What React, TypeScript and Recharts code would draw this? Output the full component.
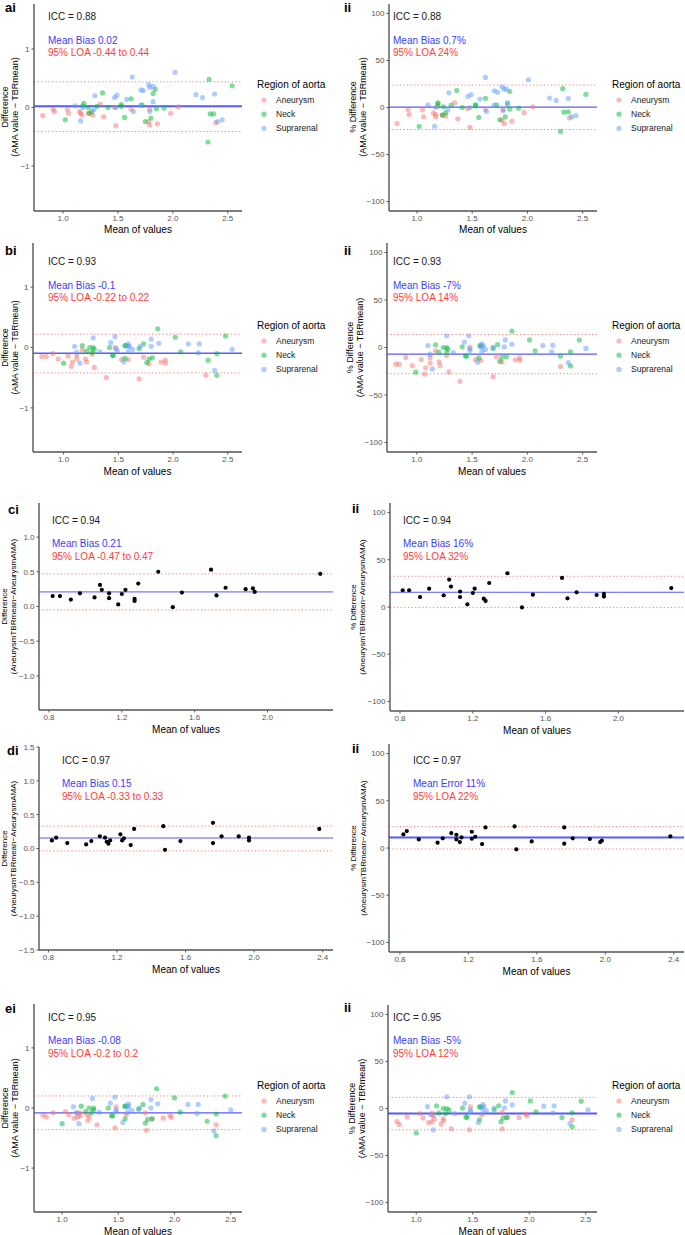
import React from "react";
import { ScatterChart, Scatter, XAxis, YAxis, ReferenceLine } from "recharts";

type Pt = [number, number];

// ggplot default hues for the three regions
const ANEURYSM = "#F8766D";
const NECK = "#00BA38";
const SUPRA = "#619CFF";
const BIAS = "#3c3cff";
const LOA = "#ff3c3c";
const AXIS = "#555555";
const TICK = "#555555";
const FONT = "'Liberation Sans', Arial, Helvetica, sans-serif";

// ---- a: AMA value vs TBRmean, absolute difference
const A_ABS_ANEURYSM: Pt[] = [
  [0.815, -0.14], [0.91, -0.03], [0.92, -0.07], [1.04, -0.03], [1.05, -0.1], [1.15, -0.07],
  [1.16, -0.1], [1.17, -0.13], [1.23, -0.1], [1.27, -0.13], [1.34, 0.06], [1.37, -0.16],
  [1.47, 0.0], [1.48, -0.31], [1.62, -0.03], [1.78, -0.24], [1.79, -0.03], [1.79, -0.3],
  [1.86, -0.28], [1.98, -0.1], [2.05, 0.01], [2.39, -0.26],
];
const A_ABS_NECK: Pt[] = [
  [1.02, -0.21], [1.18, 0.03], [1.19, 0.07], [1.23, 0.0], [1.24, -0.1], [1.26, -0.07],
  [1.31, 0.02], [1.36, 0.25], [1.41, 0.0], [1.53, 0.05], [1.53, 0.02], [1.56, -0.17],
  [1.62, 0.15], [1.72, 0.04], [1.75, -0.24], [1.8, -0.18], [1.82, 0.24], [1.84, 0.31],
  [1.85, -0.02], [1.92, -0.01], [2.33, 0.48], [2.32, -0.59], [2.34, -0.11], [2.37, -0.11],
  [2.54, 0.37],
];
const A_ABS_SUPRA: Pt[] = [
  [1.11, 0.03], [1.16, -0.23], [1.18, 0.0], [1.28, -0.04], [1.29, 0.2], [1.47, 0.17],
  [1.49, 0.21], [1.48, 0.0], [1.58, 0.14], [1.63, 0.52], [1.64, -0.07], [1.71, 0.3],
  [1.73, 0.29], [1.71, 0.04], [1.78, 0.39], [1.79, -0.07], [1.79, 0.34], [1.82, 0.36],
  [1.82, 0.1], [2.02, 0.6], [2.21, 0.22], [2.27, 0.17], [2.38, 0.23], [2.41, -0.24],
  [2.45, -0.21],
];

// ---- a ii: percentage difference
const A_PCT_ANEURYSM: Pt[] = [
  [0.82, -17], [0.92, -2.5], [0.93, -7.5], [1.05, -2.5], [1.06, -10], [1.15, -6],
  [1.17, -7.5], [1.17, -10], [1.19, 1], [1.23, -8], [1.26, -9], [1.34, 5], [1.37, -12],
  [1.46, -1], [1.48, -21], [1.62, -2], [1.77, -13.5], [1.78, -2], [1.79, -17], [1.86, -14.5],
  [1.97, -5.5], [2.05, 0.7], [2.38, -11],
];
const A_PCT_NECK: Pt[] = [
  [1.02, -20], [1.19, 5], [1.19, 3.5], [1.24, 0.7], [1.23, -8], [1.26, -5.7], [1.31, 2.5],
  [1.36, 18], [1.41, 0], [1.53, 3], [1.53, 1.8], [1.56, -10.6], [1.62, 9.6], [1.72, 2.5],
  [1.75, -13], [1.8, -10], [1.82, 3.5], [1.84, 17], [1.84, -1.8], [1.92, -0.7], [2.32, 20],
  [2.3, -25.6], [2.33, -5], [2.37, -4.6], [2.53, 14],
];
const A_PCT_SUPRA: Pt[] = [
  [1.1, 2.8], [1.16, -20], [1.17, 0], [1.28, -2.5], [1.29, 15.6], [1.46, 11.7], [1.49, 13.8],
  [1.48, 0], [1.57, 9], [1.62, 32], [1.63, -4.3], [1.7, 17.8], [1.73, 16.3], [1.7, 2.5],
  [1.77, 22], [1.78, -3.5], [1.79, 19.5], [1.81, 19.5], [1.82, 5.3], [2.01, 29.5], [2.2, 10],
  [2.26, 7.5], [2.37, 9.6], [2.4, -10], [2.44, -8.5],
];

// ---- b: absolute difference
const B_ABS_ANEURYSM: Pt[] = [
  [0.8, -0.15], [0.84, -0.15], [0.9, -0.1], [0.95, -0.19], [1.04, -0.14], [1.07, -0.31],
  [1.08, -0.24], [1.12, -0.13], [1.12, -0.19], [1.17, -0.04], [1.2, -0.19], [1.21, -0.24],
  [1.26, -0.11], [1.28, -0.33], [1.39, -0.5], [1.47, 0.0], [1.53, -0.2], [1.59, -0.2],
  [1.69, -0.52], [1.73, -0.16], [1.78, -0.27], [1.89, -0.24], [1.93, -0.21], [1.93, -0.26],
  [2.3, -0.46],
];
const B_ABS_NECK: Pt[] = [
  [1.0, -0.26], [1.17, 0.03], [1.21, -0.06], [1.24, 0.0], [1.27, 0.0], [1.28, -0.03],
  [1.26, -0.08], [1.42, 0.0], [1.45, -0.13], [1.45, -0.13], [1.56, 0.03], [1.57, 0.03],
  [1.56, -0.18], [1.69, -0.02], [1.73, 0.06], [1.76, -0.25], [1.78, -0.19], [1.81, -0.17],
  [1.86, 0.31], [2.02, 0.17], [2.07, -0.07], [2.32, -0.21], [2.4, -0.1], [2.4, -0.46],
  [2.48, 0.19],
];
const B_ABS_SUPRA: Pt[] = [
  [1.1, 0.02], [1.12, -0.08], [1.15, -0.26], [1.27, 0.16], [1.33, -0.07], [1.43, 0.08],
  [1.47, 0.18], [1.48, -0.02], [1.49, -0.06], [1.55, -0.24], [1.59, 0.02], [1.59, 0.06],
  [1.6, 0.02], [1.59, -0.07], [1.63, -0.03], [1.7, 0.02], [1.8, 0.02], [1.8, 0.14],
  [1.87, 0.07], [2.14, 0.06], [2.23, -0.09], [2.24, 0.06], [2.38, -0.38], [2.54, -0.03],
];

// ---- b ii: percentage difference
const B_PCT_ANEURYSM: Pt[] = [
  [0.81, -17.6], [0.84, -17.6], [0.9, -10.6], [0.96, -19], [1.04, -12.7], [1.07, -28],
  [1.08, -21.5], [1.12, -11], [1.12, -16.6], [1.17, -3.5], [1.2, -15], [1.21, -19],
  [1.27, -8.5], [1.29, -25.7], [1.39, -35.6], [1.48, 0.3], [1.53, -13], [1.58, -13.4],
  [1.69, -30.7], [1.72, -9.5], [1.77, -15.2], [1.89, -13], [1.93, -11], [1.93, -13.4],
  [2.3, -20],
];
const B_PCT_NECK: Pt[] = [
  [0.99, -26], [1.17, 2.8], [1.2, -5], [1.24, 0], [1.27, -5.3], [1.27, 0], [1.28, -1.8],
  [1.41, 0.7], [1.44, -9], [1.45, -9], [1.57, 2], [1.58, 1.8], [1.56, -11], [1.69, -1],
  [1.73, 3], [1.75, -14.4], [1.77, -10], [1.81, -9.5], [1.86, 17.3], [2.02, 8], [2.07, -3.5],
  [2.3, -9], [2.39, -4.5], [2.39, -19.4], [2.47, 7.8],
];
const B_PCT_SUPRA: Pt[] = [
  [1.1, 2], [1.12, -7], [1.14, -22.6], [1.27, 12.3], [1.33, -5.3], [1.43, 5.6], [1.47, 12.3],
  [1.48, -1.4], [1.48, -3.5], [1.55, -15.5], [1.58, 0.3], [1.59, 3.9], [1.6, 1.4],
  [1.59, -4.2], [1.62, -2], [1.69, 0.3], [1.79, 0.7], [1.8, 8], [1.86, 3.5], [2.14, 2],
  [2.22, -4.5], [2.23, 2.5], [2.37, -16], [2.53, -1],
];

// ---- c: AneurysmTBRmean vs AneurysmAMA
const C_ABS: Pt[] = [
  [0.82, 0.15], [0.86, 0.15], [0.92, 0.1], [0.97, 0.19], [1.05, 0.13], [1.08, 0.31],
  [1.09, 0.24], [1.13, 0.19], [1.13, 0.12], [1.18, 0.03], [1.2, 0.18], [1.22, 0.24],
  [1.27, 0.11], [1.27, 0.08], [1.29, 0.33], [1.4, 0.5], [1.48, -0.01], [1.53, 0.2],
  [1.69, 0.53], [1.72, 0.16], [1.77, 0.27], [1.88, 0.25], [1.92, 0.26], [1.93, 0.21],
  [2.29, 0.47],
];
const C_PCT: Pt[] = [
  [0.815, 17.7], [0.85, 17.7], [0.91, 10.6], [0.96, 19.4], [1.04, 12.4], [1.07, 29],
  [1.08, 21.6], [1.13, 16.3], [1.13, 10.6], [1.17, 2.8], [1.2, 14.8], [1.21, 19.4],
  [1.26, 8.8], [1.27, 6.4], [1.29, 25.4], [1.39, 35.7], [1.47, -0.4], [1.53, 13],
  [1.69, 30.7], [1.72, 9.2], [1.77, 15.5], [1.88, 12.7], [1.92, 13.8], [1.92, 11],
  [2.29, 20],
];

// ---- d
const D_ABS: Pt[] = [
  [0.82, 0.12], [0.845, 0.16], [0.91, 0.08], [1.02, 0.06], [1.05, 0.11], [1.1, 0.18],
  [1.13, 0.16], [1.14, 0.1], [1.15, 0.07], [1.16, 0.12], [1.22, 0.21], [1.23, 0.12],
  [1.24, 0.15], [1.28, 0.05], [1.3, 0.29], [1.47, 0.33], [1.48, -0.02], [1.57, 0.11],
  [1.76, 0.38], [1.76, 0.08], [1.81, 0.18], [1.91, 0.18], [1.97, 0.12], [1.97, 0.16],
  [2.38, 0.29],
];
const D_PCT: Pt[] = [
  [0.82, 14.4], [0.84, 17.9], [0.91, 9.1], [1.02, 5.6], [1.05, 10.2], [1.1, 15.8],
  [1.13, 14], [1.13, 9.1], [1.15, 6.3], [1.16, 11.2], [1.22, 17.2], [1.22, 9.8],
  [1.24, 11.9], [1.28, 4.2], [1.3, 21.8], [1.47, 22.8], [1.48, -1.4], [1.57, 7],
  [1.76, 21.8], [1.76, 4.6], [1.81, 10.2], [1.91, 9.5], [1.97, 6.3], [1.98, 7.7],
  [2.38, 12.3],
];

// ---- e: absolute difference
const E_ABS_ANEURYSM: Pt[] = [
  [0.83, -0.12], [0.86, -0.15], [0.92, -0.08], [1.03, -0.06], [1.06, -0.11], [1.11, -0.17],
  [1.13, -0.08], [1.14, -0.15], [1.16, -0.13], [1.16, -0.08], [1.22, -0.11], [1.23, -0.21],
  [1.24, -0.15], [1.31, -0.28], [1.47, -0.33], [1.48, 0.02], [1.57, -0.11], [1.74, -0.08],
  [1.75, -0.37], [1.8, -0.18], [1.9, -0.17], [1.96, -0.12], [1.97, -0.16], [2.37, -0.28],
];
const E_ABS_NECK: Pt[] = [
  [1.0, -0.26], [1.17, 0.03], [1.21, -0.06], [1.24, 0.0], [1.26, -0.08], [1.28, 0.0],
  [1.28, -0.03], [1.41, 0.0], [1.44, -0.13], [1.45, -0.13], [1.56, 0.03], [1.56, 0.03],
  [1.56, -0.18], [1.68, -0.02], [1.72, 0.06], [1.74, -0.25], [1.76, -0.19], [1.8, -0.18],
  [1.84, 0.32], [2.0, 0.17], [2.05, -0.07], [2.29, -0.22], [2.37, -0.1], [2.37, -0.46],
  [2.45, 0.2],
];
const E_ABS_SUPRA: Pt[] = [
  [1.1, 0.02], [1.13, -0.08], [1.15, -0.26], [1.27, 0.16], [1.33, -0.07], [1.43, 0.08],
  [1.47, 0.18], [1.48, -0.03], [1.48, -0.06], [1.54, -0.24], [1.58, 0.02], [1.59, 0.07],
  [1.59, 0.03], [1.58, -0.07], [1.62, -0.04], [1.69, 0.0], [1.79, 0.0], [1.79, 0.14],
  [1.85, 0.07], [2.12, 0.06], [2.2, -0.09], [2.21, 0.06], [2.35, -0.38], [2.5, -0.03],
];

// ---- e ii: percentage difference
const E_PCT_ANEURYSM: Pt[] = [
  [0.83, -14], [0.85, -17], [0.92, -9], [1.03, -5.3], [1.06, -10], [1.11, -15], [1.14, -5],
  [1.14, -14], [1.15, -7.4], [1.16, -11], [1.22, -16.6], [1.24, -11], [1.24, -13],
  [1.31, -21.6], [1.47, -22.7], [1.48, 1.8], [1.58, -6.7], [1.76, -4.2], [1.76, -21.6],
  [1.81, -9.6], [1.91, -9.6], [1.97, -6], [1.98, -7.8], [2.38, -12],
];
const E_PCT_NECK: Pt[] = [
  [1.0, -26], [1.18, 2.8], [1.2, -5], [1.24, 0], [1.26, -5.3], [1.27, 0], [1.29, -1.8],
  [1.41, 0.4], [1.44, -9.2], [1.45, -9.2], [1.56, 1.8], [1.57, 1.8], [1.56, -12],
  [1.69, -1.4], [1.73, 2.8], [1.75, -14], [1.77, -10], [1.8, -9.6], [1.85, 17], [2.01, 8],
  [2.06, -3.5], [2.29, -9.6], [2.38, -4.6], [2.38, -19.5], [2.46, 7.8],
];
const E_PCT_SUPRA: Pt[] = [
  [1.1, 2], [1.13, -7], [1.15, -22.7], [1.27, 12.4], [1.34, -5.3], [1.43, 5.7], [1.47, 12.4],
  [1.48, -1.8], [1.48, -3.5], [1.55, -15], [1.58, 0.4], [1.59, 4.2], [1.6, 1.8],
  [1.59, -4.6], [1.62, -2.5], [1.69, 0.4], [1.78, 0.7], [1.79, 8], [1.85, 3.9], [2.13, 2.5],
  [2.21, -4.6], [2.22, 2.8], [2.36, -16], [2.52, -1.4],
];

// bias / limit lines as drawn: [mean, upper, lower]
const BIAS_LINES = {
  aAbs: [0.02, 0.44, -0.41], aPct: [0.5, 23.8, -23.4],
  bAbs: [-0.095, 0.22, -0.42], bPct: [-7, 13.6, -27.6],
  cAbs: [0.21, 0.47, -0.05], cPct: [15.6, 32.5, -0.4],
  dAbs: [0.155, 0.33, -0.035], dPct: [11.1, 22.6, -1],
  eAbs: [-0.08, 0.2, -0.36], ePct: [-5.3, 11.8, -22.6],
};

const REGIONS = ["Aneurysm", "Neck", "Suprarenal"];
const REGION_COLORS = [ANEURYSM, NECK, SUPRA];

const ABS_LABEL = ["Difference", "(AMA value \u2212 TBRmean)"];
const PCT_LABEL = ["% Difference", "(AMA value \u2212 TBRmean)"];
const ANE_ABS_LABEL = ["Difference", "(AneurysmTBRmean\u2212AneurysmAMA)"];
const ANE_PCT_LABEL = ["% Difference", "(AneurysmTBRmean\u2212AneurysmAMA)"];

type Series = { pts: Pt[]; color: string; alpha: number; r: number };
type Cfg = {
  col: number;
  box: [number, number, number, number];
  xDomain: [number, number]; xTicks: number[]; xDigits: number;
  yDomain: [number, number]; yTicks: number[]; yDigits: number;
  series: Series[];
  lines: number[];
  meanWidth: number;
  yLabel: string[]; yLabelX: [number, number]; yLabelSize: number;
  tag: string; tagPos: [number, number];
  notes: string[]; noteX: number; noteY: [number, number, number];
  legend?: [number, number];
};

const regionSeries = (a: Pt[], n: Pt[], s: Pt[]): Series[] =>
  [a, n, s].map((pts, i) => ({ pts, color: REGION_COLORS[i], alpha: 0.5, r: 2.6 }));
const black = (pts: Pt[]): Series[] => [{ pts, color: "#000", alpha: 1, r: 2.1 }];

const X_AE = [1.0, 1.5, 2.0, 2.5];
const Y_ABS = [-1, 0, 1];
const Y_PCT = [-100, -50, 0, 50, 100];

const PANELS: Cfg[] = [
  {
    col: 0, box: [34, 3.5, 242, 210.5], xDomain: [0.735, 2.63], xTicks: X_AE, xDigits: 1,
    yDomain: [-1.77, 1.77], yTicks: Y_ABS, yDigits: 0,
    series: regionSeries(A_ABS_ANEURYSM, A_ABS_NECK, A_ABS_SUPRA), lines: BIAS_LINES.aAbs, meanWidth: 2,
    yLabel: ABS_LABEL, yLabelX: [5, 15], yLabelSize: 9, tag: "ai", tagPos: [5, 12],
    notes: ["ICC = 0.88", "Mean Bias 0.02", "95% LOA -0.44 to 0.44"], noteX: 48, noteY: [16, 40, 52],
    legend: [257, 84],
  },
  {
    col: 340, box: [389, 3.5, 597, 210.5], xDomain: [0.747, 2.63], xTicks: X_AE, xDigits: 1,
    yDomain: [-110, 110], yTicks: Y_PCT, yDigits: 0,
    series: regionSeries(A_PCT_ANEURYSM, A_PCT_NECK, A_PCT_SUPRA), lines: BIAS_LINES.aPct, meanWidth: 1.3,
    yLabel: PCT_LABEL, yLabelX: [353, 363], yLabelSize: 9, tag: "ii", tagPos: [344, 12],
    notes: ["ICC = 0.88", "Mean Bias 0.7%", "95% LOA 24%"], noteX: 393, noteY: [16, 40, 52],
    legend: [612, 84],
  },
  {
    col: 0, box: [33, 243, 242, 452], xDomain: [0.72, 2.63], xTicks: X_AE, xDigits: 1,
    yDomain: [-1.73, 1.73], yTicks: Y_ABS, yDigits: 0,
    series: regionSeries(B_ABS_ANEURYSM, B_ABS_NECK, B_ABS_SUPRA), lines: BIAS_LINES.bAbs, meanWidth: 1.5,
    yLabel: ABS_LABEL, yLabelX: [5, 15], yLabelSize: 8.5, tag: "bi", tagPos: [5, 255],
    notes: ["ICC = 0.93", "Mean Bias -0.1", "95% LOA -0.22 to 0.22"], noteX: 48, noteY: [261, 285, 297],
    legend: [257, 325],
  },
  {
    col: 340, box: [387, 243, 597, 452], xDomain: [0.73, 2.63], xTicks: X_AE, xDigits: 1,
    yDomain: [-110, 110], yTicks: Y_PCT, yDigits: 0,
    series: regionSeries(B_PCT_ANEURYSM, B_PCT_NECK, B_PCT_SUPRA), lines: BIAS_LINES.bPct, meanWidth: 1.3,
    yLabel: PCT_LABEL, yLabelX: [350, 360], yLabelSize: 9, tag: "ii", tagPos: [344, 255],
    notes: ["ICC = 0.93", "Mean Bias -7%", "95% LOA 14%"], noteX: 393, noteY: [261, 285, 297],
    legend: [612, 325],
  },
  {
    col: 0, box: [39, 503, 333, 710], xDomain: [0.745, 2.36], xTicks: [0.8, 1.2, 1.6, 2.0], xDigits: 1,
    yDomain: [-1.49, 1.49], yTicks: [-1, -0.5, 0, 0.5, 1], yDigits: 1,
    series: black(C_ABS), lines: BIAS_LINES.cAbs, meanWidth: 1,
    yLabel: ANE_ABS_LABEL, yLabelX: [4, 13], yLabelSize: 8, tag: "ci", tagPos: [8, 514],
    notes: ["ICC = 0.94", "Mean Bias 0.21", "95% LOA -0.47 to 0.47"], noteX: 52, noteY: [520, 543, 556],
  },
  {
    col: 340, box: [390, 503, 684, 711], xDomain: [0.745, 2.36], xTicks: [0.8, 1.2, 1.6, 2.0], xDigits: 1,
    yDomain: [-110, 110], yTicks: Y_PCT, yDigits: 0,
    series: black(C_PCT), lines: BIAS_LINES.cPct, meanWidth: 1,
    yLabel: ANE_PCT_LABEL, yLabelX: [353, 362], yLabelSize: 8, tag: "ii", tagPos: [352, 513],
    notes: ["ICC = 0.94", "Mean Bias 16%", "95% LOA 32%"], noteX: 403, noteY: [520, 543, 556],
  },
  {
    col: 0, box: [39, 747, 333, 950], xDomain: [0.745, 2.46], xTicks: [0.8, 1.2, 1.6, 2.0, 2.4], xDigits: 1,
    yDomain: [-1.5, 1.5], yTicks: [-1.5, -1, -0.5, 0, 0.5, 1, 1.5], yDigits: 1,
    series: black(D_ABS), lines: BIAS_LINES.dAbs, meanWidth: 1,
    yLabel: ANE_ABS_LABEL, yLabelX: [4, 13], yLabelSize: 8, tag: "di", tagPos: [7, 755],
    notes: ["ICC = 0.97", "Mean Bias 0.15", "95% LOA -0.33 to 0.33"], noteX: 62, noteY: [760, 783, 796],
  },
  {
    col: 340, box: [389, 744, 684, 952], xDomain: [0.736, 2.46], xTicks: [0.8, 1.2, 1.6, 2.0, 2.4], xDigits: 1,
    yDomain: [-110, 110], yTicks: Y_PCT, yDigits: 0,
    series: black(D_PCT), lines: BIAS_LINES.dPct, meanWidth: 2,
    yLabel: ANE_PCT_LABEL, yLabelX: [353, 363], yLabelSize: 8, tag: "ii", tagPos: [352, 753],
    notes: ["ICC = 0.97", "Mean Error 11%", "95% LOA 22%"], noteX: 413, noteY: [760, 783, 796],
  },
  {
    col: 0, box: [34, 1004, 242, 1212], xDomain: [0.75, 2.6], xTicks: X_AE, xDigits: 1,
    yDomain: [-1.73, 1.73], yTicks: Y_ABS, yDigits: 0,
    series: regionSeries(E_ABS_ANEURYSM, E_ABS_NECK, E_ABS_SUPRA), lines: BIAS_LINES.eAbs, meanWidth: 1.3,
    yLabel: ABS_LABEL, yLabelX: [5, 15], yLabelSize: 9, tag: "ei", tagPos: [5, 1013],
    notes: ["ICC = 0.95", "Mean Bias -0.08", "95% LOA -0.2 to 0.2"], noteX: 48, noteY: [1017, 1040, 1053],
    legend: [257, 1085],
  },
  {
    col: 340, box: [388, 1005, 597, 1212], xDomain: [0.75, 2.6], xTicks: X_AE, xDigits: 1,
    yDomain: [-110, 110], yTicks: Y_PCT, yDigits: 0,
    series: regionSeries(E_PCT_ANEURYSM, E_PCT_NECK, E_PCT_SUPRA), lines: BIAS_LINES.ePct, meanWidth: 2,
    yLabel: PCT_LABEL, yLabelX: [352, 362], yLabelSize: 9, tag: "ii", tagPos: [344, 1012],
    notes: ["ICC = 0.95", "Mean Bias -5%", "95% LOA 12%"], noteX: 393, noteY: [1017, 1040, 1053],
    legend: [612, 1085],
  },
];

const fmt = (digits: number) => (v: number) => v.toFixed(digits).replace("-", "\u2212");

function Panel({ p }: { p: Cfg }) {
  const [l, t, r, b] = p.box;
  const y0 = t - 4;
  const w = r - p.col + 4;
  const h = b - y0 + 22;
  const [mean, upper, lower] = p.lines;
  return (
    <div style={{ position: "absolute", left: p.col, top: y0 }}>
      <ScatterChart width={w} height={h} margin={{ top: t - y0, right: 4, left: 0, bottom: 0 }}>
        <XAxis
          type="number" dataKey="x" domain={p.xDomain} ticks={p.xTicks} interval={0} allowDataOverflow
          tickFormatter={fmt(p.xDigits)} height={22} tickSize={2.5} tickMargin={2}
          tick={{ fontSize: 8, fill: TICK }} axisLine={{ stroke: AXIS, strokeWidth: 1.4 }}
          tickLine={{ stroke: AXIS }}
        />
        <YAxis
          type="number" dataKey="y" domain={p.yDomain} ticks={p.yTicks} interval={0} allowDataOverflow
          tickFormatter={fmt(p.yDigits)} width={l - p.col} tickSize={2.5} tickMargin={2}
          tick={{ fontSize: 8, fill: TICK }} axisLine={{ stroke: AXIS, strokeWidth: 1.4 }}
          tickLine={{ stroke: AXIS }}
        />
        <ReferenceLine y={upper} stroke={LOA} strokeOpacity={0.7} strokeDasharray="1.2 2.4" />
        <ReferenceLine y={lower} stroke={LOA} strokeOpacity={0.7} strokeDasharray="1.2 2.4" />
        {p.series.map((s, i) => (
          <Scatter
            key={i}
            data={s.pts.map(([x, y]) => ({ x, y }))}
            isAnimationActive={false}
            shape={(props: any) => (
              <circle cx={props.cx} cy={props.cy} r={s.r} fill={s.color} fillOpacity={s.alpha} />
            )}
          />
        ))}
        <ReferenceLine y={mean} stroke={BIAS} strokeOpacity={0.85} strokeWidth={p.meanWidth} />
      </ScatterChart>
    </div>
  );
}

function Overlay({ p }: { p: Cfg }) {
  const [l, t, r, b] = p.box;
  const cy = (t + b) / 2;
  return (
    <g>
      <text x={p.tagPos[0]} y={p.tagPos[1]} fontSize={13} fontWeight="bold" fill="#000">{p.tag}</text>
      {p.yLabel.map((s, i) => (
        <text
          key={i} x={p.yLabelX[i]} y={cy} fontSize={p.yLabelSize} fill="#000" textAnchor="middle"
          dominantBaseline="central" transform={`rotate(-90 ${p.yLabelX[i]} ${cy})`}
        >{s}</text>
      ))}
      <text x={(l + r) / 2} y={b + 19} fontSize={10} fill="#000" textAnchor="middle" dominantBaseline="central">
        Mean of values
      </text>
      {p.notes.map((s, i) => (
        <text
          key={i} x={p.noteX} y={p.noteY[i]} fontSize={10} dominantBaseline="central"
          fill={i === 0 ? "#1a1a1a" : i === 1 ? BIAS : LOA}
        >{s}</text>
      ))}
      {p.legend && (
        <g>
          <text x={p.legend[0]} y={p.legend[1]} fontSize={10} fill="#000" dominantBaseline="central">
            Region of aorta
          </text>
          {REGIONS.map((name, i) => (
            <g key={name}>
              <circle cx={p.legend![0] + 7} cy={p.legend![1] + 16 + 14.2 * i} r={2.6} fill={REGION_COLORS[i]} fillOpacity={0.5} />
              <text x={p.legend![0] + 19} y={p.legend![1] + 16 + 14.2 * i} fontSize={8.5} fill="#1a1a1a" dominantBaseline="central">
                {name}
              </text>
            </g>
          ))}
        </g>
      )}
    </g>
  );
}

export default function App() {
  return (
    <div style={{ position: "absolute", left: 0, top: 0, width: 685, height: 1235, background: "#fff", fontFamily: FONT }}>
      {PANELS.map((p, i) => <Panel key={i} p={p} />)}
      <svg width={685} height={1235} style={{ position: "absolute", left: 0, top: 0, pointerEvents: "none", fontFamily: FONT }}>
        {PANELS.map((p, i) => <Overlay key={i} p={p} />)}
      </svg>
    </div>
  );
}
